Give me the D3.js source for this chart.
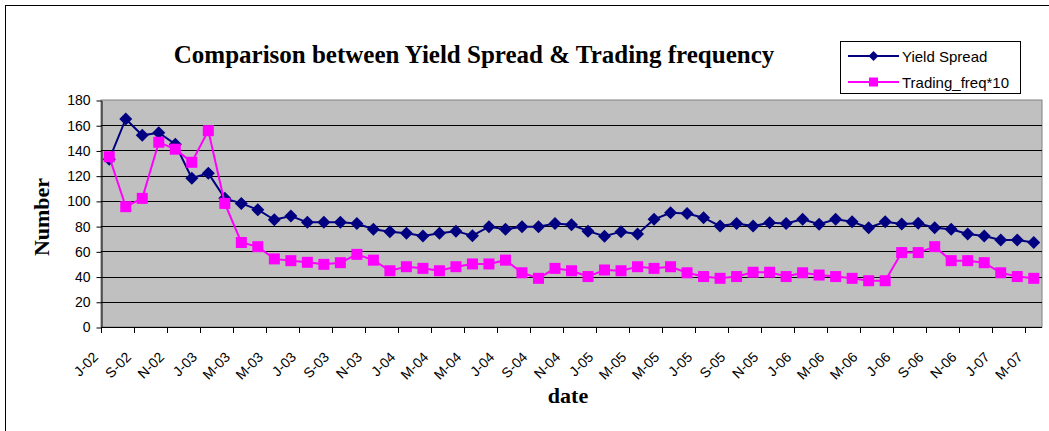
<!DOCTYPE html>
<html>
<head>
<meta charset="utf-8">
<script src="https://cdnjs.cloudflare.com/ajax/libs/d3/7.8.5/d3.min.js"></script>
<style>
  body { margin: 0; background: #fff; }
  svg { display: block; }
</style>
</head>
<body>
<svg id="chart" width="1049" height="431"></svg>
<script>
// monthly categories, Jul 2002 .. Mar 2007
var months = ["J-02","A-02","S-02","O-02","N-02","D-02",
  "J-03","F-03","M-03","A-03","M-03","J-03","J-03","A-03","S-03","O-03","N-03","D-03",
  "J-04","F-04","M-04","A-04","M-04","J-04","J-04","A-04","S-04","O-04","N-04","D-04",
  "J-05","F-05","M-05","A-05","M-05","J-05","J-05","A-05","S-05","O-05","N-05","D-05",
  "J-06","F-06","M-06","A-06","M-06","J-06","J-06","A-06","S-06","O-06","N-06","D-06",
  "J-07","F-07","M-07"];

var yieldSpread = [133, 165, 152, 154, 145, 118, 122, 102, 98, 93, 85, 88, 83, 83, 83,
  82, 77.5, 75.6, 74.3, 72.2, 74.3, 76, 72.4, 79.5, 77.5, 79.5, 79.5, 82, 81, 76,
  72, 75.6, 73.7, 85.4, 90.6, 90, 86.7, 80, 82, 80, 82.7, 82, 85.4, 81.5, 85.4,
  83.5, 78.7, 83.5, 81.7, 82.2, 78.7, 77.5, 73.7, 72.2, 69, 69, 67];

var tradingFreq = [135, 95.4, 102, 146.5, 141, 130.6, 155.7, 98, 67, 63.7, 54, 52.6, 51.3, 49.7, 51,
  57.6, 53, 44.6, 47.8, 46.5, 44.6, 47.8, 50, 50, 53, 43, 38.6, 46.5, 44.6, 40,
  45.2, 44.6, 47.8, 46.5, 47.8, 43, 40, 38.6, 40, 43.4, 43.4, 40, 43, 41.2, 40,
  38.6, 36.7, 36.7, 59, 59, 63.7, 52.6, 52.6, 51, 43, 40, 38.6];

var yTicks = [0, 20, 40, 60, 80, 100, 120, 140, 160, 180];

var svg = d3.select("#chart");

// outer chart border
svg.append("rect")
  .attr("x", 5.5).attr("y", 5.5)
  .attr("width", 1100).attr("height", 500)
  .attr("fill", "#fff").attr("stroke", "#000");

var plotLeft = 101, plotRight = 1042, plotTop = 100, plotBottom = 327;

var x = d3.scaleBand()
  .domain(d3.range(months.length))
  .range([plotLeft, plotRight])
  .padding(0);

var y = d3.scaleLinear()
  .domain([0, 180])
  .range([plotBottom, plotTop]);

// plot area
svg.append("rect")
  .attr("x", plotLeft).attr("y", plotTop)
  .attr("width", plotRight - plotLeft).attr("height", plotBottom - plotTop)
  .attr("fill", "#c0c0c0")
  .attr("stroke", "#808080");

// gridlines
svg.append("g").selectAll("line")
  .data(yTicks.filter(function(d) { return d > 0 && d < 180; }))
  .enter().append("line")
  .attr("x1", plotLeft).attr("x2", plotRight)
  .attr("y1", function(d) { return Math.round(y(d)) + 0.5; })
  .attr("y2", function(d) { return Math.round(y(d)) + 0.5; })
  .attr("stroke", "#000");

// y axis
var yAxis = svg.append("g")
  .attr("transform", "translate(" + (plotLeft + 0.5) + ",0.5)")
  .call(d3.axisLeft(y).tickValues(yTicks).tickSize(5).tickSizeOuter(0).tickPadding(6));
yAxis.select(".domain").attr("stroke", "#000");
yAxis.selectAll("text")
  .attr("font-family", "Liberation Sans, Arial, sans-serif")
  .attr("font-size", "14px")
  .attr("fill", "#000");

// x axis line, ticks every two months
svg.append("line")
  .attr("x1", plotLeft).attr("x2", plotRight)
  .attr("y1", plotBottom + 0.5).attr("y2", plotBottom + 0.5)
  .attr("stroke", "#000");

var evenIdx = d3.range(0, months.length, 2);

svg.append("g").selectAll("line")
  .data(evenIdx)
  .enter().append("line")
  .attr("x1", function(d) { return Math.round(x(d)) + 0.5; })
  .attr("x2", function(d) { return Math.round(x(d)) + 0.5; })
  .attr("y1", plotBottom).attr("y2", plotBottom + 6)
  .attr("stroke", "#000");

svg.append("g").selectAll("text")
  .data(evenIdx)
  .enter().append("text")
  .attr("transform", function(d) { return "translate(" + (x(d) - 2) + "," + 358 + ") rotate(-45)"; })
  .attr("text-anchor", "end")
  .attr("font-family", "Liberation Sans, Arial, sans-serif")
  .attr("font-size", "14px")
  .text(function(d) { return months[d]; });

// series
var line = d3.line()
  .x(function(d, i) { return x(i) + x.bandwidth() / 2; })
  .y(function(d) { return y(d); });

svg.append("path")
  .datum(yieldSpread)
  .attr("d", line)
  .attr("fill", "none")
  .attr("stroke", "#000080")
  .attr("stroke-width", 2);

svg.append("g").selectAll("path")
  .data(yieldSpread)
  .enter().append("path")
  .attr("transform", function(d, i) { return "translate(" + (x(i) + x.bandwidth() / 2) + "," + y(d) + ")"; })
  .attr("d", "M0,-6.5L6.5,0L0,6.5L-6.5,0Z")
  .attr("fill", "#000080");

svg.append("path")
  .datum(tradingFreq)
  .attr("d", line)
  .attr("fill", "none")
  .attr("stroke", "#ff00ff")
  .attr("stroke-width", 2);

svg.append("g").selectAll("rect")
  .data(tradingFreq)
  .enter().append("rect")
  .attr("x", function(d, i) { return x(i) + x.bandwidth() / 2 - 5.5; })
  .attr("y", function(d) { return y(d) - 5.5; })
  .attr("width", 11).attr("height", 11)
  .attr("fill", "#ff00ff");

// titles
svg.append("text")
  .attr("x", 474).attr("y", 63)
  .attr("text-anchor", "middle")
  .attr("font-family", "Liberation Serif, Times New Roman, serif")
  .attr("font-weight", "bold")
  .attr("font-size", "25px")
  .text("Comparison between Yield Spread & Trading frequency");

svg.append("text")
  .attr("transform", "translate(49,217) rotate(-90)")
  .attr("text-anchor", "middle")
  .attr("font-family", "Liberation Serif, Times New Roman, serif")
  .attr("font-weight", "bold")
  .attr("font-size", "22px")
  .text("Number");

svg.append("text")
  .attr("x", 568).attr("y", 403)
  .attr("text-anchor", "middle")
  .attr("font-family", "Liberation Serif, Times New Roman, serif")
  .attr("font-weight", "bold")
  .attr("font-size", "22px")
  .text("date");

// legend
var legend = svg.append("g");
legend.append("rect")
  .attr("x", 840.5).attr("y", 41.5)
  .attr("width", 180).attr("height", 52)
  .attr("fill", "#fff").attr("stroke", "#000");

var legendItems = [
  { name: "Yield Spread", color: "#000080", shape: "diamond" },
  { name: "Trading_freq*10", color: "#ff00ff", shape: "square" }
];

legendItems.forEach(function(item, i) {
  var ly = 56 + i * 26;
  legend.append("line")
    .attr("x1", 848).attr("x2", 899)
    .attr("y1", ly).attr("y2", ly)
    .attr("stroke", item.color).attr("stroke-width", 2);
  if (item.shape == "diamond") {
    legend.append("path")
      .attr("transform", "translate(873.5," + ly + ")")
      .attr("d", "M0,-5L5,0L0,5L-5,0Z")
      .attr("fill", item.color);
  } else {
    legend.append("rect")
      .attr("x", 869).attr("y", ly - 4.5)
      .attr("width", 9).attr("height", 9)
      .attr("fill", item.color);
  }
  legend.append("text")
    .attr("x", 902).attr("y", ly + 5.5)
    .attr("font-family", "Liberation Sans, Arial, sans-serif")
    .attr("font-size", "15px")
    .text(item.name);
});
</script>
</body>
</html>
